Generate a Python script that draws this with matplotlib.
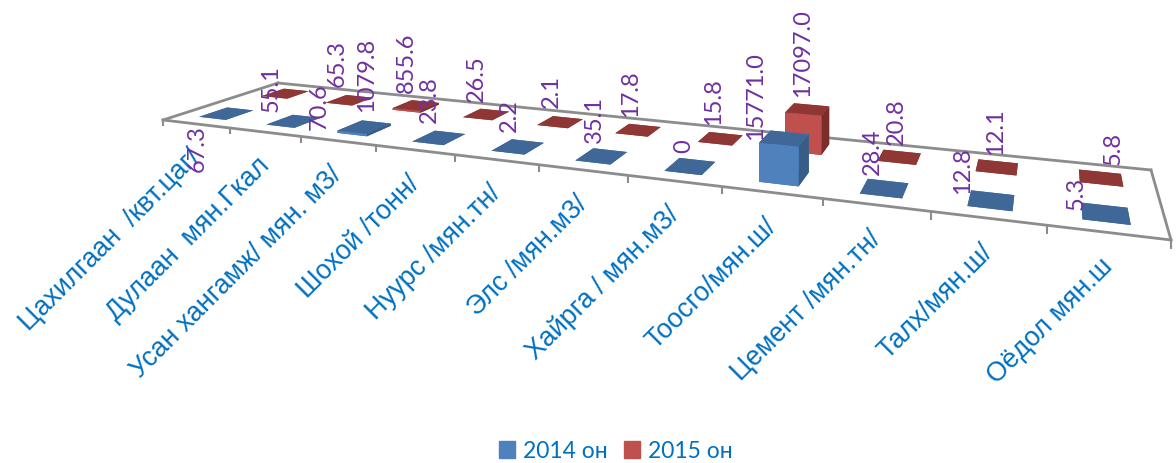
import numpy as np
import matplotlib
matplotlib.use('Agg')
import matplotlib.pyplot as plt
from matplotlib.patches import Patch
from mpl_toolkits.mplot3d import proj3d
from mpl_toolkits.mplot3d.art3d import Line3DCollection

categories = ['Цахилгаан  /квт.цаг/', 'Дулаан  мян.Гкал', 'Усан хангамж/ мян. м3/',
              'Шохой /тонн/', 'Нуурс /мян.тн/', 'Элс /мян.м3/', 'Хайрга / мян.м3/',
              'Тоосго/мян.ш/', 'Цемент /мян.тн/', 'Талх/мян.ш/', 'Оёдол мян.ш']
values_2014 = [67.3, 70.6, 1079.8, 23.8, 2.2, 35.1, 0, 15771.0, 28.4, 12.8, 5.3]
values_2015 = [55.1, 65.3, 855.6, 26.5, 2.1, 17.8, 15.8, 17097.0, 20.8, 12.1, 5.8]
series_names = ['2014 он', '2015 он']

# data labels were dragged around by hand in the original, so they get their own pixel spots
label_x_2014 = [197, 319, 367, 429, 509, 594, 684, 756, 872, 963, 1076]
label_y_2014 = [172, 130, 112, 123, 132, 143, 153, 140, 175, 194, 210]
label_x_2015 = [271, 337, 406, 476, 551, 631, 714, 803, 896, 996, 1113]
label_y_2015 = [112, 87, 93, 102, 108, 117, 125, 97, 145, 155, 165]

W, H = 1176, 463
n = len(categories)

# floor corners on screen, used to get the camera
floor_uv = [(0, 0), (n, 0), (0, 1), (n, 1)]
floor_px = [(163, 120), (1171, 240), (278, 83), (1151, 170)]

A = []
b = []
for (u, v), (px, py) in zip(floor_uv, floor_px):
    A.append([u, v, 1, 0, 0, 0, -u * px, -v * px])
    A.append([0, 0, 0, u, v, 1, -u * py, -v * py])
    b += [px, py]
h = np.linalg.solve(np.array(A, float), np.array(b, float))

# 40 px of height for the tallest bar
w_ref = h[6] * 7.5 + h[7] * 0.5 + 1
k = -40.0 / 17097 * w_ref
M = np.array([[h[0], h[1], 0, h[2]],
              [h[3], h[4], k, h[5]],
              [-0.02, 1, -1e-5, 0],
              [h[6], h[7], 0, 1]])

fig = plt.figure(figsize=(W / 100, H / 100), dpi=100)
ax = fig.add_axes([0, 0, 1, 1], projection='3d', computed_zorder=False)
ax.set_axis_off()
ax.get_proj = lambda: M
ax.apply_aspect = lambda position=None: None


def face_colors(top, front, side, count):
    # order used by bar3d: bottom, top, front, back, left, right
    return [top, top, front, front, side, side] * count


def draw_bars(vals, v0, v1, cols, z):
    x = np.arange(n) + 0.3
    ax.bar3d(x, np.full(n, v0), np.zeros(n), np.full(n, 0.4), np.full(n, v1 - v0),
             np.array(vals, float), color=face_colors(*cols, n), shade=False,
             linewidth=0, zorder=z)


edge = '#8c8c8c'
border = [[(0, 0, 0), (n, 0, 0)], [(n, 0, 0), (n, 1, 0)], [(n, 1, 0), (0, 1, 0)], [(0, 1, 0), (0, 0, 0)]]
ticks = [[(i, 0, 0), (i, 0, -3000)] for i in range(n + 1)]
ax.add_collection3d(Line3DCollection(border, colors=edge, linewidths=2, capstyle='projecting', zorder=1))
ax.add_collection3d(Line3DCollection(ticks, colors=edge, linewidths=1.5, zorder=1))

draw_bars(values_2015, 0.67, 0.88, ('#8E3735', '#C0504D', '#7A2E2C'), 2)
draw_bars(values_2014, 0.13, 0.36, ('#3F6797', '#4F81BD', '#375C87'), 3)

ax.viewLim.intervalx = (0, W)
ax.viewLim.intervaly = (H, 0)


def fmt(v):
    return '0' if v == 0 else '%.1f' % v


purple = '#7030A0'
blue_txt = '#0070C0'
for vals, xs, ys in [(values_2014, label_x_2014, label_y_2014),
                     (values_2015, label_x_2015, label_y_2015)]:
    for v, lx, ly in zip(vals, xs, ys):
        ax.text2D(lx, ly, fmt(v), transform=ax.transData, rotation=90, ha='center', va='bottom',
                  color=purple, fontsize=17, family='Lato', zorder=6)

for i, name in enumerate(categories):
    px, py, _ = proj3d.proj_transform(i + 0.5, 0, 0, M)
    ax.text2D(px + 1, py + 30, name, transform=ax.transData, rotation=45, rotation_mode='anchor',
              ha='right', va='center', color=blue_txt, fontsize=19.3, family='Liberation Sans', zorder=5)

handles = [Patch(color='#4F81BD'), Patch(color='#C0504D')]
fig.legend(handles, series_names, loc='center', bbox_to_anchor=(616 / W, 1 - 451 / H), ncol=2,
           frameon=False, prop={'family': 'Lato', 'size': 16.5}, labelcolor=blue_txt,
           handlelength=0.7, handleheight=0.7, handletextpad=0.35, columnspacing=0.7)

fig.savefig('out.png', dpi=100)
